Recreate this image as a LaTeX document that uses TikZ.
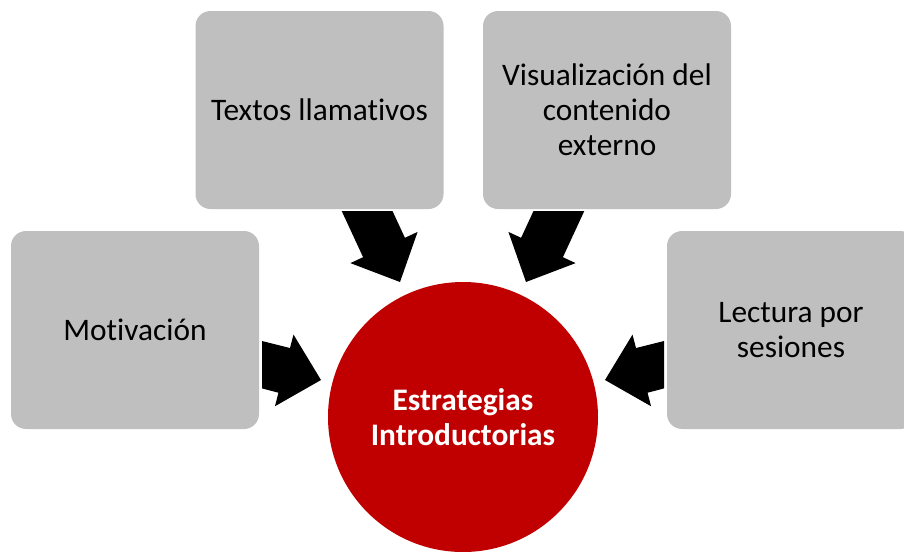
\documentclass[tikz,border=0pt]{standalone}
\usepackage{fontspec}
\setmainfont[Ligatures=NoCommon]{Carlito}
\definecolor{boxgray}{HTML}{BFBFBF}
\definecolor{hubred}{HTML}{C00000}
\newcommand{\nolig}{\kern0pt }
\begin{document}
\begin{tikzpicture}[x=0.75pt,y=-0.75pt,
  box/.style={fill=boxgray, rounded corners=11.25pt, minimum width=186pt,
    minimum height=148.5pt, inner sep=0pt, align=center, text=black,
    font=\fontsize{23.5}{26.25}\selectfont},
  hub/.style={circle, fill=hubred, minimum size=202.5pt, inner sep=0pt,
    align=center, text=white, font=\fontsize{23.5}{26.25}\selectfont\bfseries},
  blockarrow/.style={fill=black}]
\useasboundingbox (0,0) rectangle (904,551);
\clip (0,0) rectangle (904,551);
\node[box] (mot) at (135,330) {Mot\nolig ivación};
\node[box] (tex) at (319.5,110) {Textos llamat\nolig ivos};
\node[box] (vis) at (607,110) {Visualización del\\contenido\\externo};
\node[box] (lec) at (791,330) {Lectura por\\sesiones};
\node[hub] (hub) at (463,417) {Estrategias\\Introductorias};
% block arrows pointing to the hub
\fill[blockarrow] (262,341) -- (290,348) -- (293.5,334.6) -- (321,380) -- (275,406.2) -- (278.4,392.7) -- (262,388.4) -- cycle;
\fill[blockarrow] (664,341) -- (636,348) -- (632.5,334.6) -- (605,380) -- (651,406.2) -- (647.6,392.7) -- (664,388.4) -- cycle;
\fill[blockarrow] (341.7,211) -- (392.5,211) -- (404.9,237.8) -- (417.6,231.9) -- (400,282) -- (350.4,263.1) -- (363.1,257.2) -- cycle;
\fill[blockarrow] (584.3,211) -- (533.5,211) -- (521.1,237.8) -- (508.4,231.9) -- (526,282) -- (575.6,263.1) -- (562.9,257.2) -- cycle;
\end{tikzpicture}
\end{document}
